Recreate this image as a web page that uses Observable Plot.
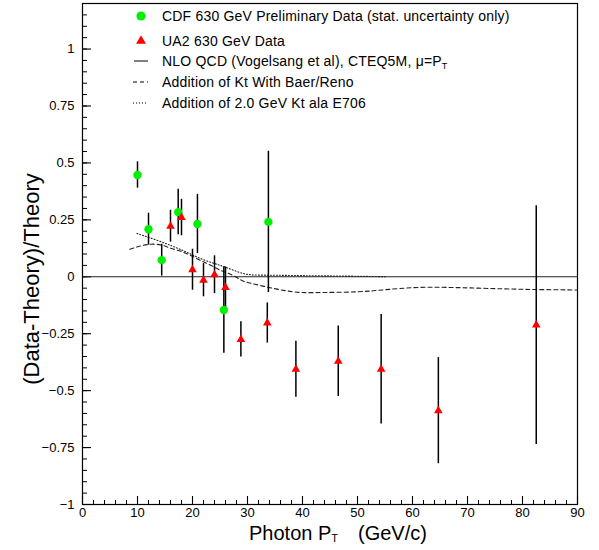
<!DOCTYPE html>
<html><head><meta charset="utf-8">
<script src="https://cdn.jsdelivr.net/npm/d3@7"></script>
<script src="https://cdn.jsdelivr.net/npm/@observablehq/plot@0.6"></script>
<style>
body{margin:0;background:#fff;}
</style></head><body><div id="chart"></div>
<script>
// CDF 630 GeV preliminary data (stat. uncertainty only)
const cdfX   = [10.0, 12.0, 14.4, 17.4, 20.9, 25.7, 33.8];
const cdfY   = [0.447, 0.209, 0.073, 0.284, 0.232, -0.146, 0.241];
const cdfErr = [0.058, 0.07, 0.07, 0.10, 0.13, 0.19, 0.31];
// UA2 630 GeV data
const ua2X   = [16.0, 18.0, 20.0, 22.0, 24.0, 26.0, 28.8, 33.6, 38.8, 46.5, 54.3, 64.7, 82.5];
const ua2Y   = [0.222, 0.26, 0.031, -0.015, 0.009, -0.047, -0.275, -0.203, -0.406, -0.371, -0.406, -0.588, -0.212];
const ua2Err = [0.07, 0.08, 0.09, 0.073, 0.083, 0.09, 0.077, 0.088, 0.123, 0.155, 0.24, 0.233, 0.524];
// NLO QCD reference (zero line)
const nloX = [0, 90];
const nloY = [0, 0];
// Addition of Kt with Baer/Reno (dashed)
const bkX = [8.6, 10.7, 12.5, 14.4, 16.2, 18, 19.8, 21.6, 23.5, 25.3, 27.1, 28.9, 30.7, 33.9, 36.9, 39.8, 44, 50, 55, 61, 67, 72, 80, 90];
const bkY = [0.121, 0.136, 0.143, 0.139, 0.124, 0.111, 0.092, 0.07, 0.048, 0.026, 0.009, -0.015, -0.029, -0.047, -0.061, -0.069, -0.069, -0.066, -0.057, -0.047, -0.047, -0.05, -0.055, -0.058];
// Addition of 2.0 GeV Kt ala E706 (dotted)
const e7X = [9.9, 13, 16.2, 19, 22.2, 25.3, 28.1, 30.5, 34, 40, 48, 55.4];
const e7Y = [0.19, 0.165, 0.136, 0.107, 0.073, 0.048, 0.023, 0.009, 0.007, 0.005, 0.003, 0.0];
// ticks
const xMajor = d3.range(0, 91, 10);
const xMinor = d3.range(0, 91, 2);
const yMajor = [-1, -0.75, -0.5, -0.25, 0, 0.25, 0.5, 0.75, 1];
const yMinor = d3.range(-20, 25, 1).map(v => +(v * 0.05).toFixed(2));

const cdf = cdfX.map((x, i) => ({x, y: cdfY[i], e: cdfErr[i]}));
const ua2 = ua2X.map((x, i) => ({x, y: ua2Y[i], e: ua2Err[i]}));
const nlo = nloX.map((x, i) => ({x, y: nloY[i]}));
const bk = bkX.map((x, i) => ({x, y: bkY[i]}));
const e7 = e7X.map((x, i) => ({x, y: e7Y[i]}));

const FONT = "'Liberation Sans', Arial, Helvetica, sans-serif";
const W = 599, H = 550, ML = 82, MR = 22, MT = 3, MB = 46;
const FW = W - ML - MR, FH = H - MT - MB;
const fmt = d => String(d).replace("-", "\u2212");

const chart = Plot.plot({
  width: W, height: H,
  marginLeft: ML, marginRight: MR, marginTop: MT, marginBottom: MB,
  style: {fontFamily: FONT, fontSize: "13px", background: "#fff", color: "#000", overflow: "visible"},
  x: {domain: [0, 90]},
  y: {domain: [-1, 1.2]},
  marks: [
    // inward tick marks
    Plot.ruleX(xMajor, {x: d => d, insetTop: FH - 8, stroke: "#000", strokeWidth: 1.1}),
    Plot.ruleX(xMinor, {x: d => d, insetTop: FH - 4, stroke: "#000", strokeWidth: 1}),
    Plot.ruleY(yMajor, {y: d => d, insetRight: FW - 9, stroke: "#000", strokeWidth: 1.1}),
    Plot.ruleY(yMinor, {y: d => d, insetRight: FW - 5, stroke: "#000", strokeWidth: 1}),
    // tick labels
    Plot.axisX(xMajor, {tickSize: 0, tickPadding: 3, label: null, tickFormat: fmt}),
    Plot.axisY(yMajor, {tickSize: 0, tickPadding: 8, label: null, tickFormat: fmt}),
    Plot.line(nlo, {x: "x", y: "y", stroke: "#222", strokeWidth: 1.2}),
    Plot.line(bk, {x: "x", y: "y", stroke: "#222", strokeWidth: 1.1, strokeDasharray: "4,3", curve: "natural"}),
    Plot.line(e7, {x: "x", y: "y", stroke: "#222", strokeWidth: 1.1, strokeDasharray: "1,2", curve: "natural"}),
    Plot.ruleX(cdf, {x: "x", y1: d => d.y - d.e, y2: d => d.y + d.e, stroke: "#000", strokeWidth: 1.5}),
    Plot.ruleX(ua2, {x: "x", y1: d => d.y - d.e, y2: d => d.y + d.e, stroke: "#000", strokeWidth: 1.5}),
    Plot.dot(cdf, {x: "x", y: "y", r: 4.2, fill: "#00f000", stroke: "none"}),
    Plot.dot(ua2, {x: "x", y: "y", r: 3.2, symbol: "triangle", fill: "#ff0000", stroke: "none"}),
    Plot.frame({stroke: "#000", strokeWidth: 1.2})
  ]
});
document.getElementById("chart").appendChild(chart);

const svg = d3.select(chart);
// axis titles
svg.append("text")
  .attr("transform", "translate(39,279) rotate(-90)")
  .attr("text-anchor", "middle")
  .attr("font-family", FONT).attr("font-size", 22).attr("fill", "#000")
  .text("(Data-Theory)/Theory");
const xl = svg.append("text")
  .attr("x", 249).attr("y", 540).attr("text-anchor", "start")
  .attr("font-family", FONT).attr("font-size", 20).attr("fill", "#000");
xl.append("tspan").text("Photon P");
xl.append("tspan").attr("font-size", 11).attr("dy", 2).text("T");
xl.append("tspan").attr("dx", 20).attr("dy", -2).text("(GeV/c)");

// legend
const leg = svg.append("g").attr("font-family", FONT).attr("font-size", 14)
  .attr("letter-spacing", 0.2).attr("fill", "#000").attr("text-anchor", "start");
const rows = [16, 41, 61, 82, 103];
const tx = 162;
leg.append("circle").attr("cx", 141).attr("cy", rows[0]).attr("r", 4.6).attr("fill", "#00f000");
leg.append("path").attr("d", d3.symbol(d3.symbolTriangle, 42)()).attr("transform", `translate(141,${rows[1]})`).attr("fill", "#ff0000");
leg.append("line").attr("x1", 134).attr("x2", 148).attr("y1", rows[2]).attr("y2", rows[2]).attr("stroke", "#000");
leg.append("line").attr("x1", 133).attr("x2", 148).attr("y1", rows[3]).attr("y2", rows[3]).attr("stroke", "#000").attr("stroke-dasharray", "4,3");
leg.append("line").attr("x1", 133).attr("x2", 148).attr("y1", rows[4]).attr("y2", rows[4]).attr("stroke", "#000").attr("stroke-dasharray", "1,2");
const labels = ["CDF 630 GeV Preliminary Data (stat. uncertainty only)", "UA2 630 GeV Data", null,
  "Addition of Kt With Baer/Reno", "Addition of 2.0 GeV Kt ala E706"];
labels.forEach((t, i) => {
  if (!t) return;
  leg.append("text").attr("x", tx).attr("y", rows[i]).attr("dy", "0.35em").text(t);
});
const nl = leg.append("text").attr("x", tx).attr("y", rows[2]).attr("dy", "0.35em");
nl.append("tspan").text("NLO QCD (Vogelsang et al), CTEQ5M, \u03BC=P");
nl.append("tspan").attr("font-size", 9).attr("dy", 3).text("T");
</script></body></html>
